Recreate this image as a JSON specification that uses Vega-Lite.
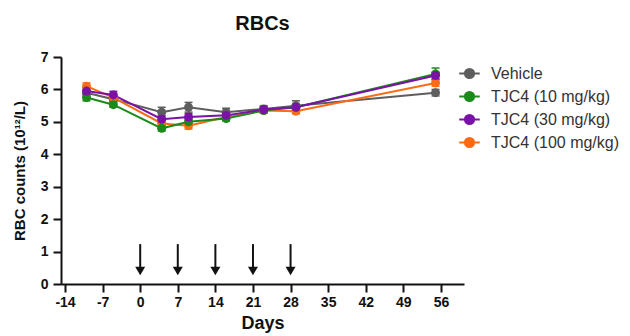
{
  "$schema": "https://vega.github.io/schema/vega-lite/v6.json",
  "width": 403,
  "height": 227,
  "padding": {"left": 12, "top": 14, "right": 2, "bottom": 2},
  "background": "white",
  "config": {
    "view": {"stroke": null},
    "font": "Liberation Sans",
    "axis": {"labelFont": "Liberation Sans", "titleFont": "Liberation Sans", "labelFontWeight": "bold", "labelColor": "#111", "titleColor": "#111", "domainColor": "#111", "tickColor": "#111", "domainWidth": 2, "tickWidth": 2, "tickSize": 8, "grid": false}
  },
  "title": {"text": "RBCs", "fontSize": 20, "fontWeight": "bold", "font": "Liberation Sans", "color": "#111", "offset": 16},
  "datasets": {
    "rbc": [
      {"day": -10, "group": "Vehicle", "rbc": 5.9, "lo": 5.8, "hi": 6.0},
      {"day": -5, "group": "Vehicle", "rbc": 5.7, "lo": 5.6, "hi": 5.8},
      {"day": 4, "group": "Vehicle", "rbc": 5.3, "lo": 5.15, "hi": 5.45},
      {"day": 9, "group": "Vehicle", "rbc": 5.45, "lo": 5.3, "hi": 5.6},
      {"day": 16, "group": "Vehicle", "rbc": 5.3, "lo": 5.18, "hi": 5.42},
      {"day": 23, "group": "Vehicle", "rbc": 5.4, "lo": 5.3, "hi": 5.5},
      {"day": 29, "group": "Vehicle", "rbc": 5.5, "lo": 5.38, "hi": 5.65},
      {"day": 55, "group": "Vehicle", "rbc": 5.9, "lo": 5.8, "hi": 6.0},
      {"day": -10, "group": "TJC4 (100 mg/kg)", "rbc": 6.1, "lo": 6.0, "hi": 6.2},
      {"day": -5, "group": "TJC4 (100 mg/kg)", "rbc": 5.75, "lo": 5.65, "hi": 5.85},
      {"day": 4, "group": "TJC4 (100 mg/kg)", "rbc": 4.95, "lo": 4.85, "hi": 5.05},
      {"day": 9, "group": "TJC4 (100 mg/kg)", "rbc": 4.88, "lo": 4.78, "hi": 4.98},
      {"day": 16, "group": "TJC4 (100 mg/kg)", "rbc": 5.15, "lo": 5.07, "hi": 5.23},
      {"day": 23, "group": "TJC4 (100 mg/kg)", "rbc": 5.35, "lo": 5.27, "hi": 5.43},
      {"day": 29, "group": "TJC4 (100 mg/kg)", "rbc": 5.33, "lo": 5.25, "hi": 5.41},
      {"day": 55, "group": "TJC4 (100 mg/kg)", "rbc": 6.2, "lo": 6.1, "hi": 6.3},
      {"day": -10, "group": "TJC4 (10 mg/kg)", "rbc": 5.75, "lo": 5.65, "hi": 5.85},
      {"day": -5, "group": "TJC4 (10 mg/kg)", "rbc": 5.53, "lo": 5.45, "hi": 5.61},
      {"day": 4, "group": "TJC4 (10 mg/kg)", "rbc": 4.8, "lo": 4.72, "hi": 4.88},
      {"day": 9, "group": "TJC4 (10 mg/kg)", "rbc": 5.0, "lo": 4.92, "hi": 5.08},
      {"day": 16, "group": "TJC4 (10 mg/kg)", "rbc": 5.1, "lo": 5.03, "hi": 5.17},
      {"day": 23, "group": "TJC4 (10 mg/kg)", "rbc": 5.35, "lo": 5.28, "hi": 5.42},
      {"day": 29, "group": "TJC4 (10 mg/kg)", "rbc": 5.45, "lo": 5.37, "hi": 5.53},
      {"day": 55, "group": "TJC4 (10 mg/kg)", "rbc": 6.48, "lo": 6.3, "hi": 6.66},
      {"day": -10, "group": "TJC4 (30 mg/kg)", "rbc": 5.95, "lo": 5.85, "hi": 6.05},
      {"day": -5, "group": "TJC4 (30 mg/kg)", "rbc": 5.83, "lo": 5.72, "hi": 5.94},
      {"day": 4, "group": "TJC4 (30 mg/kg)", "rbc": 5.08, "lo": 4.97, "hi": 5.19},
      {"day": 9, "group": "TJC4 (30 mg/kg)", "rbc": 5.15, "lo": 5.05, "hi": 5.25},
      {"day": 16, "group": "TJC4 (30 mg/kg)", "rbc": 5.2, "lo": 5.12, "hi": 5.28},
      {"day": 23, "group": "TJC4 (30 mg/kg)", "rbc": 5.38, "lo": 5.3, "hi": 5.46},
      {"day": 29, "group": "TJC4 (30 mg/kg)", "rbc": 5.45, "lo": 5.37, "hi": 5.53},
      {"day": 55, "group": "TJC4 (30 mg/kg)", "rbc": 6.43, "lo": 6.33, "hi": 6.53}
    ],
    "arrows": [
      {"day": 0, "top": 1.23, "bottom": 0.5, "tip": 0.4},
      {"day": 7, "top": 1.23, "bottom": 0.5, "tip": 0.4},
      {"day": 14, "top": 1.23, "bottom": 0.5, "tip": 0.4},
      {"day": 21, "top": 1.23, "bottom": 0.5, "tip": 0.4},
      {"day": 28, "top": 1.23, "bottom": 0.5, "tip": 0.4}
    ]
  },
  "layer": [
    {
      "data": {"name": "arrows"},
      "mark": {"type": "rule", "color": "#111", "strokeWidth": 2},
      "encoding": {
        "x": {"field": "day", "type": "quantitative",
          "scale": {"domain": [-14.75, 60.3], "nice": false, "zero": false},
          "axis": {"values": [-14, -7, 0, 7, 14, 21, 28, 35, 42, 49, 56], "labelExpr": "'' + datum.value", "title": "Days", "titleFontSize": 18, "titleFontWeight": "bold", "labelFontSize": 14, "titlePadding": 5, "labelPadding": 3}},
        "y": {"field": "top", "type": "quantitative",
          "scale": {"domain": [0, 7], "nice": false},
          "axis": {"values": [0, 1, 2, 3, 4, 5, 6, 7], "tickCount": 8, "title": "RBC counts (10¹²/L)", "titleFontSize": 15, "titleFontWeight": "bold", "labelFontSize": 14, "titlePadding": 13, "labelPadding": 5}},
        "y2": {"field": "bottom"}
      }
    },
    {
      "data": {"name": "arrows"},
      "mark": {"type": "point", "shape": "triangle-down", "filled": true, "color": "#111", "size": 100, "opacity": 1},
      "encoding": {
        "x": {"field": "day", "type": "quantitative"},
        "y": {"field": "tip", "type": "quantitative", "axis": {"values": [0, 1, 2, 3, 4, 5, 6, 7], "tickCount": 8}}
      }
    },
    {
      "data": {"name": "rbc"},
      "mark": {"type": "rule", "strokeWidth": 1.5},
      "encoding": {
        "x": {"field": "day", "type": "quantitative"},
        "y": {"field": "lo", "type": "quantitative", "axis": {"values": [0, 1, 2, 3, 4, 5, 6, 7], "tickCount": 8}},
        "y2": {"field": "hi"},
        "color": {"field": "group", "type": "nominal"}
      }
    },
    {
      "data": {"name": "rbc"},
      "mark": {"type": "tick", "thickness": 1.5, "size": 8, "orient": "horizontal", "opacity": 1},
      "encoding": {
        "x": {"field": "day", "type": "quantitative"},
        "y": {"field": "hi", "type": "quantitative", "axis": {"values": [0, 1, 2, 3, 4, 5, 6, 7], "tickCount": 8}},
        "color": {"field": "group", "type": "nominal"}
      }
    },
    {
      "data": {"name": "rbc"},
      "mark": {"type": "tick", "thickness": 1.5, "size": 8, "orient": "horizontal", "opacity": 1},
      "encoding": {
        "x": {"field": "day", "type": "quantitative"},
        "y": {"field": "lo", "type": "quantitative", "axis": {"values": [0, 1, 2, 3, 4, 5, 6, 7], "tickCount": 8}},
        "color": {"field": "group", "type": "nominal"}
      }
    },
    {
      "data": {"name": "rbc"},
      "mark": {"type": "line", "strokeWidth": 2},
      "encoding": {
        "x": {"field": "day", "type": "quantitative"},
        "y": {"field": "rbc", "type": "quantitative", "axis": {"values": [0, 1, 2, 3, 4, 5, 6, 7], "tickCount": 8}},
        "color": {"field": "group", "type": "nominal"},
        "order": {"field": "day"}
      }
    },
    {
      "data": {"name": "rbc"},
      "mark": {"type": "point", "filled": true, "size": 80, "opacity": 1},
      "encoding": {
        "x": {"field": "day", "type": "quantitative"},
        "y": {"field": "rbc", "type": "quantitative", "axis": {"values": [0, 1, 2, 3, 4, 5, 6, 7], "tickCount": 8}},
        "color": {"field": "group", "type": "nominal",
          "scale": {"domain": ["Vehicle", "TJC4 (10 mg/kg)", "TJC4 (30 mg/kg)", "TJC4 (100 mg/kg)"], "range": ["#5e5e5e", "#1a8a1a", "#7a12a6", "#ff6a14"]},
          "legend": {"title": null, "orient": "none", "legendX": 397, "legendY": 5, "symbolType": "M-1,0L1,0M-0.45,0A0.45,0.45 0 1,0 0.45,0A0.45,0.45 0 1,0 -0.45,0Z", "symbolSize": 420, "symbolStrokeWidth": 2, "symbolOpacity": 1, "labelFontSize": 16, "labelColor": "#333", "labelFont": "Liberation Sans", "rowPadding": 2, "labelOffset": 10}}
      }
    }
  ]
}
